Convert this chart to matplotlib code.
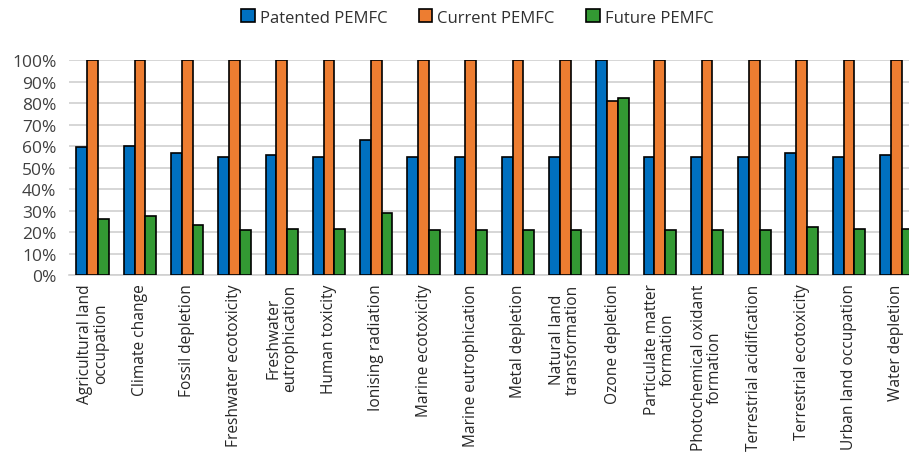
import matplotlib.pyplot as plt
import numpy as np

categories = ["Agricultural land\noccupation", "Climate change", "Fossil depletion",
              "Freshwater ecotoxicity", "Freshwater\neutrophication", "Human toxicity",
              "Ionising radiation", "Marine ecotoxicity", "Marine eutrophication",
              "Metal depletion", "Natural land\ntransformation", "Ozone depletion",
              "Particulate matter\nformation", "Photochemical oxidant\nformation",
              "Terrestrial acidification", "Terrestrial ecotoxicity",
              "Urban land occupation", "Water depletion"]

patented = [59.8, 60.2, 56.9, 55, 55.7, 55, 63, 55, 55, 55, 55, 100, 55, 55, 55, 56.6, 55, 55.7]
current = [100, 100, 100, 100, 100, 100, 100, 100, 100, 100, 100, 81, 100, 100, 100, 100, 100, 100]
future = [26.1, 27.4, 23.1, 21, 21.5, 21.5, 28.9, 21, 21, 21, 21, 82.6, 21, 21, 21, 22.2, 21.5, 21.6]

plt.rcParams['font.family'] = ['Open Sans', 'DejaVu Sans']

fig = plt.figure(figsize=(9.09, 4.6), dpi=100)
# the plot runs a little past the right edge of the figure
ax = fig.add_axes([0.0759, 0.40, 0.936, 0.467])

x = np.arange(len(categories))
w = 0.228
ax.bar(x - w, patented, w, color="#0070C0", edgecolor="black", linewidth=1.2, label="Patented PEMFC", zorder=3)
ax.bar(x, current, w, color="#ED7D31", edgecolor="black", linewidth=1.2, label="Current PEMFC", zorder=3)
ax.bar(x + w, future, w, color="#339933", edgecolor="black", linewidth=1.2, label="Future PEMFC", zorder=3)

ax.set_xlim(-0.5, len(categories) - 0.5)
ax.set_ylim(0, 100)
ax.set_yticks(range(0, 101, 10))
ax.set_yticklabels([f"{v}%" for v in range(0, 101, 10)], fontsize=12.5, color="#404040")
ax.set_xticks(x)
ax.set_xticklabels(categories, rotation=90, fontsize=11.2, color="#262626", linespacing=1.0)
ax.tick_params(axis="x", length=0, pad=6)
ax.tick_params(axis="y", length=0, pad=9)
ax.yaxis.grid(True, color="#d0d0d0", linewidth=1.2, zorder=0)
for s in ["top", "right", "left"]:
    ax.spines[s].set_visible(False)
ax.spines["bottom"].set_color("#d0d0d0")
ax.spines["bottom"].set_linewidth(1.2)

fig.legend(loc="upper center", bbox_to_anchor=(0.525, 1.01), ncol=3, frameon=False,
           fontsize=12, handlelength=0.8, handleheight=0.8, handletextpad=0.3,
           columnspacing=1.9, labelcolor="#303030")

fig.savefig("out.png", dpi=100)
